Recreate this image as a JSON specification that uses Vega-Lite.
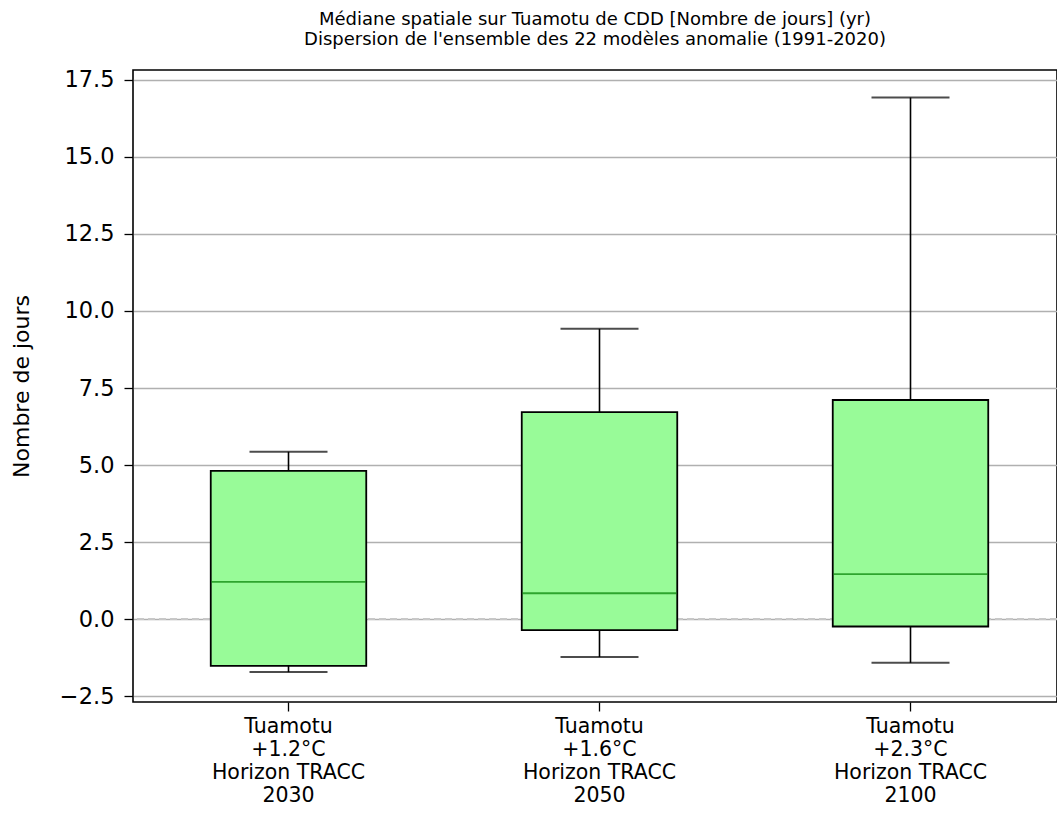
{
  "$schema": "https://vega.github.io/schema/vega-lite/v6.json",
  "autosize": {"type": "none"},
  "padding": {"left": 133, "top": 70, "right": 0, "bottom": 120},
  "width": 924,
  "height": 632,
  "background": "white",
  "title": {
    "text": ["Médiane spatiale sur Tuamotu de CDD [Nombre de jours] (yr)", "Dispersion de l'ensemble des 22 modèles anomalie (1991-2020)"],
    "font": "DejaVu Sans",
    "fontSize": 18,
    "fontWeight": "normal",
    "color": "black",
    "anchor": "middle",
    "frame": "group",
    "lineHeight": 20,
    "offset": 20
  },
  "data": {
    "values": [
      {"label": "Tuamotu\n+1.2°C\nHorizon TRACC\n2030", "lo": -1.72, "q1": -1.52, "med": 1.21, "q3": 4.81, "hi": 5.43},
      {"label": "Tuamotu\n+1.6°C\nHorizon TRACC\n2050", "lo": -1.23, "q1": -0.36, "med": 0.84, "q3": 6.72, "hi": 9.42},
      {"label": "Tuamotu\n+2.3°C\nHorizon TRACC\n2100", "lo": -1.42, "q1": -0.24, "med": 1.46, "q3": 7.11, "hi": 16.93}
    ]
  },
  "encoding": {
    "x": {
      "field": "label",
      "type": "nominal",
      "sort": null,
      "scale": {"type": "band", "paddingInner": 0.5, "paddingOuter": 0.25, "range": [0, 933]},
      "axis": {
        "title": null,
        "labelAngle": 0,
        "labelExpr": "split(datum.label, '\\n')",
        "labelFont": "DejaVu Sans",
        "labelFontSize": 20.5,
        "labelLineHeight": 23,
        "labelColor": "black",
        "labelPadding": 5,
        "labelBaseline": "top",
        "tickColor": "black",
        "tickSize": 9,
        "tickWidth": 1.3,
        "domain": false,
        "grid": false
      }
    }
  },
  "layer": [
    {
      "mark": {"type": "rule", "color": "#c8c8c8", "strokeDash": [7, 4], "strokeWidth": 1.5},
      "encoding": {"x": null, "y": {"datum": 0, "type": "quantitative"}}
    },
    {
      "mark": {"type": "rule", "color": "black", "strokeWidth": 1.6},
      "encoding": {
        "y": {
          "field": "lo",
          "type": "quantitative",
          "scale": {"domain": [-2.69, 17.82], "nice": false, "zero": false},
          "axis": {
            "title": "Nombre de jours",
            "titleFont": "DejaVu Sans",
            "titleFontSize": 22,
            "titleFontWeight": "normal",
            "titleColor": "black",
            "titlePadding": 26,
            "values": [-2.5, 0, 2.5, 5, 7.5, 10, 12.5, 15, 17.5],
            "format": ".1f",
            "labelFont": "DejaVu Sans",
            "labelFontSize": 22.5,
            "labelColor": "black",
            "labelPadding": 10,
            "tickColor": "black",
            "tickSize": 9,
            "tickWidth": 1.3,
            "domain": false,
            "grid": true,
            "gridColor": "#b0b0b0",
            "gridWidth": 1.3
          }
        },
        "y2": {"field": "q1"}
      }
    },
    {
      "mark": {"type": "rule", "color": "black", "strokeWidth": 1.6},
      "encoding": {"y": {"field": "q3", "type": "quantitative"}, "y2": {"field": "hi"}}
    },
    {
      "mark": {"type": "tick", "color": "black", "size": 78, "thickness": 2},
      "encoding": {"y": {"field": "lo", "type": "quantitative"}}
    },
    {
      "mark": {"type": "tick", "color": "black", "size": 78, "thickness": 2},
      "encoding": {"y": {"field": "hi", "type": "quantitative"}}
    },
    {
      "mark": {"type": "bar", "fill": "#98fb98", "stroke": "black", "strokeWidth": 1.8, "opacity": 1},
      "encoding": {"y": {"field": "q1", "type": "quantitative"}, "y2": {"field": "q3"}}
    },
    {
      "mark": {"type": "tick", "color": "#008000", "size": 154, "thickness": 1.8},
      "encoding": {"y": {"field": "med", "type": "quantitative"}}
    }
  ],
  "config": {
    "view": {"stroke": "black", "strokeWidth": 1.6},
    "axis": {"labelFont": "DejaVu Sans", "titleFont": "DejaVu Sans"}
  }
}
